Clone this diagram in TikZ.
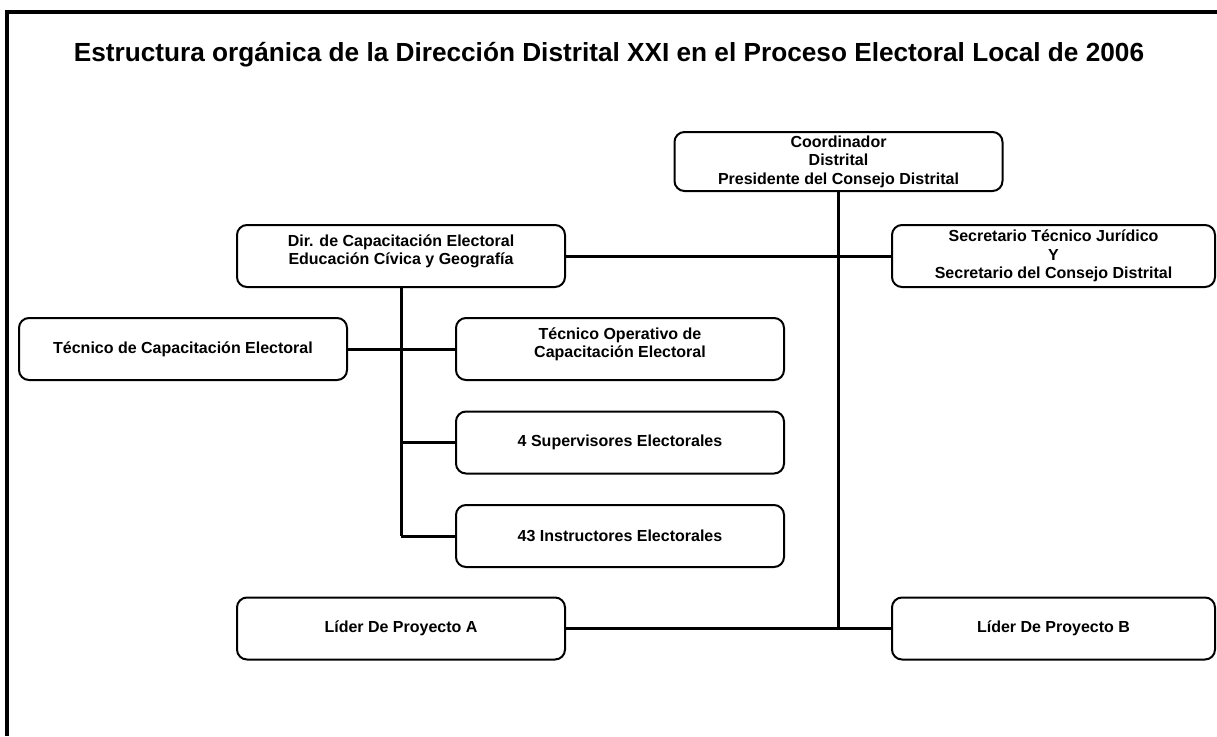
\documentclass[tikz,border=0pt]{standalone}
\usepackage{fontspec}
\setmainfont{Liberation Sans}
\tikzset{
	caja/.style = {draw, line width = 2pt, rounded corners = 10pt, align = center,
		minimum width = 328pt, minimum height = 62pt, inner sep = 2pt,
		font = \fontsize{16}{18.5}\selectfont\bfseries},
	linea/.style = {line width = 3pt},
}
\begin{document}
\begin{tikzpicture} [x = 1pt, y = -1pt]
	\useasboundingbox (0,0) rectangle (1217,736);
	\draw [line width = 4pt] (7,736) -- (7,12) -- (1217,12);
	\node (titulo) at (609,55) {\fontsize{26.2}{30}\selectfont\bfseries Estructura orgánica de la Dirección Distrital XXI en el Proceso Electoral Local de 2006};
	% cajas
	\node [caja, minimum height = 59pt] (coord) at (838.5,161.5) {Coordinador\\Distrital\\Presidente del Consejo Distrital};
	\node [caja] (dir) at (401,256) {Dir. de Capacitación Electoral\\Educación Cívica y Geografía\\[-6pt]\mbox{}};
	\node [caja, minimum width = 323pt] (secr) at (1053.5,256) {Secretario Técnico Jurídico\\Y\\Secretario del Consejo Distrital};
	\node [caja] (tcap) at (183,349) {Técnico de Capacitación Electoral};
	\node [caja] (tope) at (620,349) {Técnico Operativo de\\Capacitación Electoral\\[-6pt]\mbox{}};
	\node [caja] (sup) at (620,442.5) {4 Supervisores Electorales};
	\node [caja] (ins) at (620,536) {43 Instructores Electorales};
	\node [caja] (lidA) at (401,628.5) {Líder De Proyecto A};
	\node [caja, minimum width = 323pt] (lidB) at (1053.5,628.5) {Líder De Proyecto B};
	% lineas
	\draw [linea] (coord.south) -- (coord.south |- lidB.west);
	\draw [linea] (dir.east) -- (secr.west);
	\draw [linea] (lidA.east) -- (lidB.west);
	\draw [linea] (dir.south) -- (dir.south |- ins.west);
	\draw [linea] (tcap.east) -- (tope.west);
	\draw [linea] (dir.south |- sup.west) -- (sup.west);
	\draw [linea] (dir.south |- ins.west) -- (ins.west);
\end{tikzpicture}
\end{document}
